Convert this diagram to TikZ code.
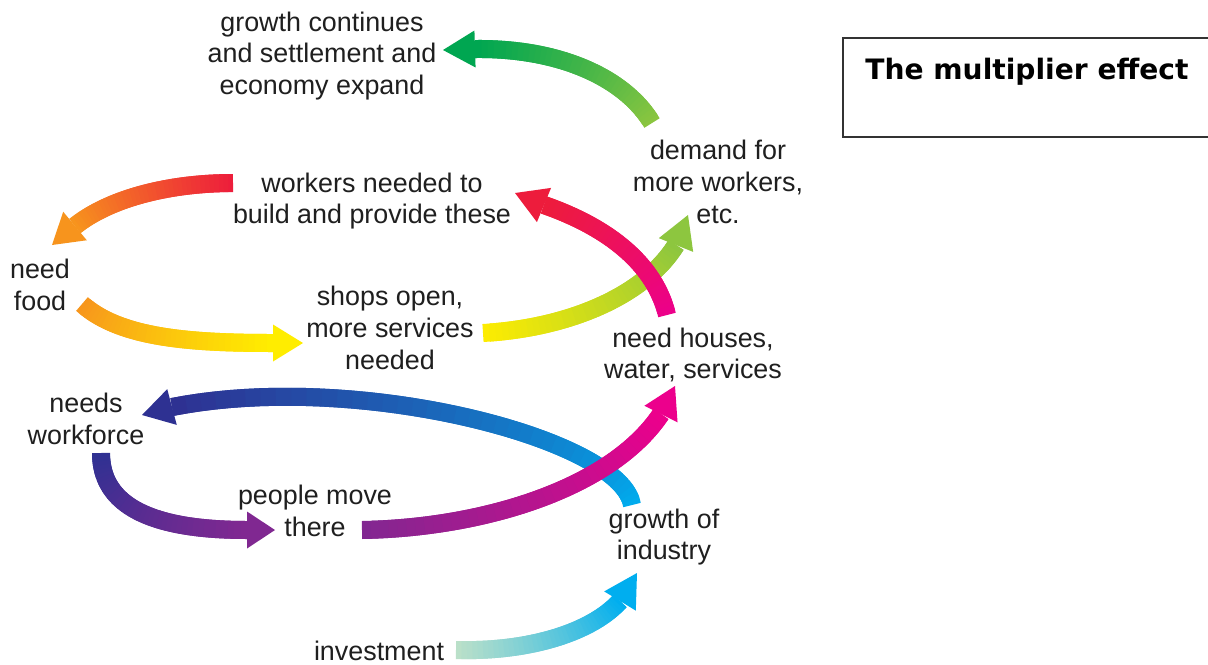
\documentclass[tikz,border=0pt]{standalone}
\usepackage{fontspec}
\setmainfont{Liberation Sans}
\newfontfamily\titlefont{DejaVu Sans}
\usetikzlibrary{calc}

\definecolor{leaf}{RGB}{0,166,81}
\definecolor{limegreen}{RGB}{141,198,63}
\definecolor{sun}{RGB}{255,237,0}
\definecolor{amber}{RGB}{247,148,29}
\definecolor{crimson}{RGB}{237,28,60}
\definecolor{hotpink}{RGB}{236,0,140}
\definecolor{plum}{RGB}{128,40,145}
\definecolor{navy}{RGB}{46,49,146}
\definecolor{sky}{RGB}{0,174,239}
\definecolor{mint}{RGB}{190,225,200}

\tikzset{
  lbl/.style={align=center, inner sep=0pt, text=black!88,
    font=\fontsize{15.3}{18.1}\selectfont},
  titlebox/.style={draw=black!80, line width=0.9pt},
  band/.style={line width=0.36cm, line cap=butt, line join=round},
}

% fat curved arrow, colour running from #6 (tail) to #7 (head)
% #1 tail, #2 #3 controls, #4 base of head, #5 tip
\newcommand\gradarrow[7]{%
  \path (#1) .. controls (#2) and (#3) .. (#4)
    \foreach \k [evaluate=\k as \t using \k/40] in {0,...,40}{coordinate[pos=\t] (g\k)};
  \foreach \k [evaluate=\k as \pct using int(2.5*\k),
               evaluate=\k as \j using int(\k-1),
               evaluate=\k as \l using int(\k+1)] in {1,...,40}{
    \ifnum\k<40
      \draw[band, draw=#7!\pct!#6] (g\j) -- (g\k) -- (g\l);
    \else
      \draw[band, draw=#7] (g\j) -- (g\k);
    \fi
  }
  \fill[#7] ($(#4)!0.37cm!90:(#5)$) -- (#5) -- ($(#4)!0.37cm!-90:(#5)$) -- cycle;
}

\begin{document}
\begin{tikzpicture}[x=0.02cm, y=-0.02cm]

\fill[white] (0,0) rectangle (1208,664);
\useasboundingbox (0,0) rectangle (1208,664);

% Title
\draw[titlebox] (843,38) rectangle (1216,137);
\node[font=\titlefont\bfseries\fontsize{16}{19}\selectfont] (title) at (1027,72) {The multiplier effect};

% Labels
\node[lbl] (grow)     at (322,56)  {growth continues\\and settlement and\\economy expand};
\node[lbl] (workers)  at (372,201) {workers needed to\\build and provide these};
\node[lbl] (food)     at (40,285)  {need\\food};
\node[lbl] (shops)    at (390,328) {shops open,\\more services\\needed};
\node[lbl] (demand)   at (718,182) {demand for\\more workers,\\etc.};
\node[lbl] (houses)   at (693,355) {need houses,\\water, services};
\node[lbl] (needs)    at (86,419)  {needs\\workforce};
\node[lbl] (people)   at (315,511) {people move\\there};
\node[lbl] (industry) at (664,537) {growth of\\industry};
\node[lbl] (invest)   at (379,651) {investment};

% Arrow ends
\coordinate (inv0) at (456,650);  \coordinate (inv1) at (620,601); \coordinate (inv2) at (637,573);
\coordinate (ind0) at (632,505);  \coordinate (ind1) at (172,407); \coordinate (ind2) at (142,415);
\coordinate (wf0)  at (101,453);  \coordinate (wf1)  at (247,530); \coordinate (wf2)  at (275,530);
\coordinate (pm0)  at (362,530);  \coordinate (pm1)  at (661,414); \coordinate (pm2)  at (675,386);
\coordinate (sh0)  at (483,333);  \coordinate (sh1)  at (676,245); \coordinate (sh2)  at (688,215);
\coordinate (hs0)  at (667,315);  \coordinate (hs1)  at (544,205); \coordinate (hs2)  at (515,193);
\coordinate (wk0)  at (233,183);  \coordinate (wk1)  at (75,226);  \coordinate (wk2)  at (52,245);
\coordinate (fd0)  at (82,304);   \coordinate (fd1)  at (273,343); \coordinate (fd2)  at (303,343);
\coordinate (dm0)  at (652,123);  \coordinate (dm1)  at (475,49);  \coordinate (dm2)  at (443,50);

% Arrows
\gradarrow{inv0}{530,652}{592,632}{inv1}{inv2}{mint}{sky}
\gradarrow{ind0}{622,440}{360,370}{ind1}{ind2}{sky}{navy}
\gradarrow{wf0}{101,510}{160,530}{wf1}{wf2}{navy}{plum}
\gradarrow{pm0}{480,528}{610,490}{pm1}{pm2}{plum}{hotpink}
\gradarrow{sh0}{570,328}{645,295}{sh1}{sh2}{sun}{limegreen}
\gradarrow{hs0}{655,265}{610,228}{hs1}{hs2}{hotpink}{crimson}
\gradarrow{wk0}{170,183}{110,198}{wk1}{wk2}{crimson}{amber}
\gradarrow{fd0}{120,338}{190,343}{fd1}{fd2}{amber}{sun}
\gradarrow{dm0}{625,78}{560,48}{dm1}{dm2}{limegreen}{leaf}

\end{tikzpicture}
\end{document}
